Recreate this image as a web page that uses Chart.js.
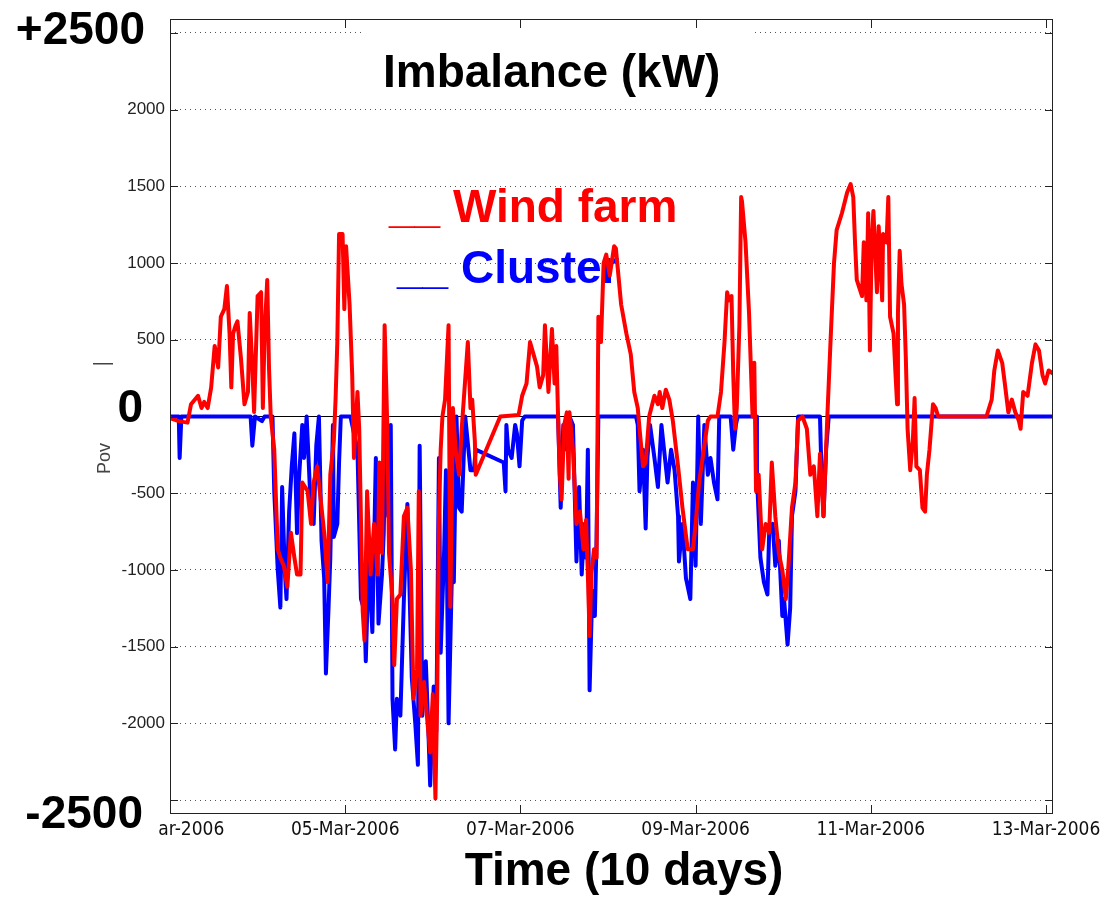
<!DOCTYPE html>
<html lang="en">
<head>
    <meta charset="UTF-8">
    <title>Imbalance (kW)</title>
    <script src="https://cdn.jsdelivr.net/npm/chart.js@4.4.0/dist/chart.umd.min.js"></script>
    <style>
        body { margin: 0; background: #fff; }
        #wrap { width: 1102px; height: 900px; position: relative; }
    </style>
</head>
<body>
    <div id="wrap"><canvas id="imbalanceChart"></canvas></div>

    <script>
        // x = days since 03-Mar-2006 00:00, y = kW
        const windFarm = [
            [0, -10], [0.10, -30], [0.20, -40], [0.24, 80], [0.32, 135], [0.36, 55], [0.39, 95], [0.43, 55],
            [0.47, 190], [0.51, 460], [0.55, 320], [0.58, 650], [0.62, 700], [0.65, 850], [0.68, 540], [0.70, 190],
            [0.72, 540], [0.75, 595], [0.77, 620], [0.81, 380], [0.85, 80], [0.89, 160], [0.91, 675], [0.94, 320],
            [0.96, 30], [1.00, 785], [1.04, 810], [1.06, 55], [1.08, 540], [1.11, 890], [1.13, 320], [1.15, 0],
            [1.19, -215], [1.23, -865], [1.26, -920], [1.30, -975], [1.34, -1110], [1.38, -757], [1.42, -920], [1.45, -1030],
            [1.49, -1030], [1.51, -430], [1.57, -485], [1.61, -700], [1.64, -430], [1.68, -325], [1.72, -540], [1.76, -757],
            [1.80, -1080], [1.83, -380], [1.87, -160], [1.89, 110], [1.91, 485], [1.93, 1190], [1.97, 1190], [1.99, 700],
            [2.01, 1110], [2.05, 730], [2.08, 270], [2.10, -270], [2.14, 160], [2.16, -80], [2.20, -1270], [2.22, -1460],
            [2.25, -487], [2.29, -1030], [2.33, -700], [2.37, -1030], [2.39, -300], [2.42, -890], [2.45, 595], [2.48, -55],
            [2.50, -890], [2.54, -1190], [2.56, -1620], [2.59, -1190], [2.63, -1160], [2.67, -650], [2.71, -595], [2.75, -1000],
            [2.78, -1840], [2.82, -1650], [2.84, -487], [2.86, -1950], [2.90, -1730], [2.94, -2000], [2.97, -2190], [3.00, -1810],
            [3.03, -2490], [3.05, -1840], [3.07, -650], [3.09, -216], [3.11, 0], [3.14, 110], [3.18, 595], [3.20, -1240],
            [3.23, 55], [3.26, -216], [3.30, -380], [3.33, -80], [3.36, 160], [3.40, 485], [3.43, 55], [3.45, 110],
            [3.48, -160], [3.49, -380], [3.77, 0], [3.98, 10], [4.02, 135], [4.07, 215], [4.11, 485], [4.15, 405],
            [4.19, 325], [4.22, 190], [4.26, 270], [4.28, 595], [4.32, 160], [4.36, 570], [4.39, 215], [4.41, 460],
            [4.43, 0], [4.45, -380], [4.47, -540], [4.50, -55], [4.53, 27], [4.55, -405], [4.56, 27], [4.60, -216],
            [4.64, -700], [4.68, -620], [4.72, -865], [4.75, -675], [4.77, -1030], [4.79, -1430], [4.81, -1030], [4.84, -865],
            [4.87, -920], [4.89, 650], [4.92, 485], [4.95, 1000], [4.98, 1055], [5.02, 920], [5.07, 1110], [5.09, 1095],
            [5.15, 730], [5.21, 540], [5.26, 405], [5.30, 160], [5.34, 55], [5.36, -80], [5.40, -325], [5.43, -300],
            [5.47, 0], [5.53, 135], [5.57, 80], [5.59, 160], [5.62, 55], [5.66, 175], [5.70, 110], [5.74, -27],
            [5.80, -325], [5.85, -595], [5.91, -865], [5.97, -865], [6.00, -700], [6.04, -430], [6.08, -270], [6.14, -27],
            [6.17, 0], [6.25, 0], [6.29, 160], [6.33, 485], [6.36, 810], [6.38, 757], [6.41, 785], [6.43, 270],
            [6.45, -80], [6.47, 55], [6.50, 595], [6.52, 1430], [6.53, 1400], [6.57, 1135], [6.61, 675], [6.65, 0],
            [6.67, 350], [6.69, -487], [6.72, -380], [6.76, -865], [6.80, -700], [6.84, -757], [6.87, -300], [6.91, -650],
            [6.95, -890], [6.99, -1000], [7.03, -1190], [7.06, -973], [7.10, -595], [7.14, -430], [7.17, -27], [7.22, 0],
            [7.27, -80], [7.31, -380], [7.35, -325], [7.39, -650], [7.42, -243], [7.46, -650], [7.50, -55], [7.54, 485],
            [7.58, 1000], [7.61, 1215], [7.67, 1325], [7.73, 1460], [7.77, 1515], [7.80, 1430], [7.82, 1135], [7.84, 890],
            [7.90, 785], [7.92, 1135], [7.95, 757], [7.97, 1325], [7.99, 430], [8.01, 1135], [8.03, 1340], [8.07, 810],
            [8.09, 1240], [8.13, 757], [8.14, 1190], [8.18, 1135], [8.20, 1430], [8.22, 650], [8.26, 540], [8.28, 300],
            [8.30, 80], [8.31, 675], [8.33, 1080], [8.35, 865], [8.38, 730], [8.40, 380], [8.42, -80], [8.45, -350],
            [8.48, -160], [8.50, 120], [8.52, -325], [8.56, -350], [8.59, -595], [8.62, -620], [8.64, -380], [8.67, -216],
            [8.71, 80], [8.74, 55], [8.77, 0], [9.32, 0], [9.38, 110], [9.41, 300], [9.45, 430], [9.50, 350],
            [9.53, 215], [9.57, 27], [9.61, 110], [9.65, 27], [9.69, -27], [9.71, -80], [9.74, 160], [9.79, 135],
            [9.84, 350], [9.88, 470], [9.92, 430], [9.96, 270], [9.99, 215], [10.03, 300], [10.08, 280]
        ];

        const cluster = [
            [0, 0], [0.10, 0], [0.11, -270], [0.13, 0], [0.92, 0], [0.94, -190], [0.97, 0], [1.05, -30],
            [1.08, 0], [1.17, 0], [1.19, -487], [1.23, -1000], [1.26, -1245], [1.28, -460], [1.31, -1000], [1.33, -1190],
            [1.36, -620], [1.39, -325], [1.42, -110], [1.45, -760], [1.47, -430], [1.51, -55], [1.53, -270], [1.56, 0],
            [1.59, -380], [1.61, -650], [1.64, -700], [1.67, -190], [1.70, 0], [1.73, -810], [1.76, -1055], [1.78, -1675],
            [1.81, -1245], [1.83, -920], [1.86, -55], [1.87, -785], [1.91, -700], [1.93, -300], [1.95, 0], [2.06, 0],
            [2.08, -55], [2.14, -216], [2.18, -1190], [2.22, -1270], [2.235, -1595], [2.27, -920], [2.31, -1405], [2.35, -270],
            [2.38, -1350], [2.42, -1030], [2.44, -757], [2.46, -55], [2.49, -650], [2.52, -55], [2.54, -1840], [2.57, -2170],
            [2.59, -1840], [2.63, -1950], [2.67, -1190], [2.71, -570], [2.73, -1030], [2.76, -1700], [2.80, -2000], [2.83, -2270],
            [2.85, -190], [2.88, -1950], [2.92, -1595], [2.95, -2055], [2.97, -2405], [3.01, -1760], [3.04, -2055], [3.07, -270],
            [3.09, -1540], [3.13, -865], [3.15, -350], [3.18, -2000], [3.22, -973], [3.24, -1080], [3.27, 0], [3.30, -595],
            [3.33, -620], [3.37, 0], [3.43, -350], [3.47, -350], [3.49, -216], [3.81, -300], [3.83, -487], [3.84, -55],
            [3.86, -216], [3.90, -270], [3.94, -55], [3.96, -110], [3.99, -325], [4.02, -27], [4.05, 0], [4.43, 0],
            [4.46, -595], [4.49, -55], [4.53, -216], [4.56, 0], [4.60, -55], [4.64, -945], [4.67, -460], [4.70, -1030],
            [4.73, -700], [4.75, -920], [4.77, -216], [4.79, -1785], [4.82, -1135], [4.85, -1300], [4.87, -785], [4.89, 0],
            [5.32, 0], [5.34, -55], [5.36, -487], [5.40, -216], [5.43, -730], [5.45, -270], [5.48, -55], [5.53, -270],
            [5.57, -460], [5.61, -55], [5.64, -216], [5.68, -430], [5.72, -216], [5.76, -350], [5.80, -650], [5.81, -945],
            [5.85, -700], [5.89, -1055], [5.90, -1080], [5.94, -1190], [5.97, -430], [6.00, -973], [6.03, 0], [6.06, -700],
            [6.10, -55], [6.14, -380], [6.17, -270], [6.21, -430], [6.25, -540], [6.27, 0], [6.40, 0], [6.43, -216],
            [6.46, -55], [6.48, 0], [6.69, 0], [6.70, -380], [6.74, -920], [6.78, -1080], [6.82, -1160], [6.84, -757],
            [6.88, -700], [6.91, -973], [6.95, -810], [6.99, -1300], [7.01, -1190], [7.05, -1487], [7.08, -1245], [7.10, -650],
            [7.14, -487], [7.17, 0], [7.42, 0], [7.43, -216], [7.46, -650], [7.49, -216], [7.52, 0], [10.08, 0]
        ];

        const xTickDays = [0, 2, 4, 6, 8, 10];
        const xTickLabels = ['03-Mar-2006', '05-Mar-2006', '07-Mar-2006', '09-Mar-2006', '11-Mar-2006', '13-Mar-2006'];
        const yTickValues = [-2500, -2000, -1500, -1000, -500, 0, 500, 1000, 1500, 2000, 2500];
        const bigYLabels = { '2500': '+2500', '0': '0', '-2500': '-2500' };

        const BOLD = 'bold 46px "Liberation Sans", Arial, sans-serif';

        // Titles, legend text, frame and the big hand-added axis labels
        const overlayPlugin = {
            id: 'overlay',
            beforeDatasetsDraw(chart) {
                const { ctx } = chart;
                ctx.save();
                ctx.fillStyle = '#fff';
                ctx.fillRect(363, 22, 392, 78); // white box behind the title
                ctx.font = BOLD;
                ctx.textBaseline = 'alphabetic';
                ctx.textAlign = 'left';
                ctx.fillStyle = '#000';
                ctx.fillText('Imbalance (kW)', 383, 87);
                ctx.fillStyle = '#ff0000';
                ctx.fillText('__ Wind farm', 389, 222);
                ctx.fillStyle = '#0000ff';
                ctx.fillText('__ Cluster', 397, 283);
                ctx.restore();
            },
            afterDraw(chart) {
                const { ctx, chartArea: a, scales: { x, y } } = chart;
                ctx.save();
                // axes box
                ctx.strokeStyle = '#222';
                ctx.lineWidth = 1;
                ctx.strokeRect(a.left + 0.5, a.top + 0.5, a.right - a.left - 1, a.bottom - a.top - 1);
                // inward tick marks
                ctx.beginPath();
                yTickValues.forEach(v => {
                    const py = Math.round(y.getPixelForValue(v)) + 0.5;
                    ctx.moveTo(a.left, py); ctx.lineTo(a.left + 8, py);
                    ctx.moveTo(a.right - 8, py); ctx.lineTo(a.right, py);
                });
                xTickDays.forEach(d => {
                    const px = Math.round(x.getPixelForValue(d)) + 0.5;
                    ctx.moveTo(px, a.bottom); ctx.lineTo(px, a.bottom - 9);
                    ctx.moveTo(px, a.top); ctx.lineTo(px, a.top + 9);
                });
                ctx.stroke();

                // cover the left part of the first date label, as in the original
                ctx.fillStyle = '#fff';
                ctx.fillRect(0, a.bottom + 1, 159, 40);

                // big value labels
                ctx.fillStyle = '#000';
                ctx.font = BOLD;
                ctx.textAlign = 'right';
                ctx.textBaseline = 'alphabetic';
                ctx.fillText(bigYLabels['2500'], 145, y.getPixelForValue(2500) + 11);
                ctx.fillText(bigYLabels['0'], 143, y.getPixelForValue(0) + 5);
                ctx.fillText(bigYLabels['-2500'], 143, y.getPixelForValue(-2500) + 28);

                // x axis title
                ctx.textAlign = 'center';
                ctx.fillText('Time (10 days)', 624, 885);

                // remains of the old y label
                ctx.fillStyle = '#444';
                ctx.fillRect(93, 363, 20, 1.5);
                ctx.translate(110, 474);
                ctx.rotate(-Math.PI / 2);
                ctx.textAlign = 'left';
                ctx.font = '18px "Liberation Sans", Arial, sans-serif';
                ctx.fillText('Pov', 0, 0);
                ctx.restore();
            }
        };

        const ctx = document.getElementById('imbalanceChart').getContext('2d');
        const imbalanceChart = new Chart(ctx, {
            type: 'line',
            data: {
                datasets: [
                    {
                        label: 'Wind farm',
                        data: windFarm.map(p => ({ x: p[0], y: p[1] })),
                        borderColor: '#ff0000',
                        borderWidth: 4,
                        borderJoinStyle: 'round',
                        pointRadius: 0,
                        tension: 0,
                        fill: false
                    },
                    {
                        label: 'Cluster',
                        data: cluster.map(p => ({ x: p[0], y: p[1] })),
                        borderColor: '#0000ff',
                        borderWidth: 4,
                        borderJoinStyle: 'round',
                        pointRadius: 0,
                        tension: 0,
                        fill: false
                    }
                ]
            },
            options: {
                responsive: true,
                maintainAspectRatio: false,
                animation: false,
                layout: { padding: { top: 19, right: 49, left: 0, bottom: 0 } },
                plugins: {
                    legend: { display: false },
                    title: { display: false },
                    tooltip: { enabled: false }
                },
                scales: {
                    x: {
                        type: 'linear',
                        min: 0,
                        max: 10.08,
                        afterBuildTicks: scale => { scale.ticks = xTickDays.map(v => ({ value: v })); },
                        afterFit: scale => {
                            scale.height = 86;
                            scale.paddingLeft = 0;
                            scale.paddingRight = 0;
                        },
                        grid: { display: false, drawTicks: false },
                        border: { display: false },
                        ticks: {
                            autoSkip: false,
                            maxRotation: 0,
                            padding: 5,
                            color: '#111',
                            font: { family: '"Liberation Sans Narrow", "DejaVu Sans Condensed", Arial, sans-serif', size: 19 },
                            callback: v => xTickLabels[xTickDays.indexOf(v)]
                        }
                    },
                    y: {
                        min: -2591,
                        max: 2591,
                        afterBuildTicks: scale => { scale.ticks = yTickValues.map(v => ({ value: v })); },
                        afterFit: scale => { scale.width = 170; },
                        grid: {
                            drawTicks: false,
                            lineWidth: 1,
                            color: c => (c.tick && c.tick.value === 0) ? '#000' : '#555'
                        },
                        border: {
                            display: false,
                            dash: c => (c.tick && c.tick.value === 0) ? [] : [1, 4]
                        },
                        ticks: {
                            padding: 5,
                            color: '#222',
                            font: { family: '"Liberation Sans", Arial, sans-serif', size: 17 },
                            callback: v => (v === 0 || Math.abs(v) === 2500) ? '' : String(v)
                        }
                    }
                }
            },
            plugins: [overlayPlugin]
        });
    </script>
</body>
</html>
